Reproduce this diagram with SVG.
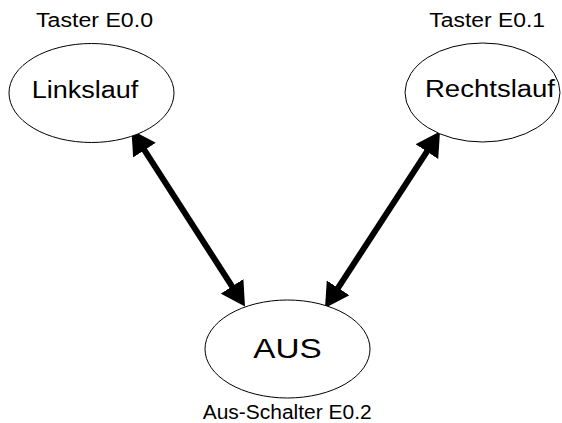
<svg xmlns="http://www.w3.org/2000/svg" width="562" height="423" viewBox="0 0 562 423">
  <style>
    .state { fill: #ffffff; stroke: #000000; stroke-width: 1; }
    .label { font-family: "Liberation Sans", Arial, sans-serif; fill: #000000; }
    .caption { font-size: 20px; }
    .name { font-size: 23px; }
    .big { font-size: 28px; }
    .link { stroke: #000000; stroke-width: 6; fill: none; marker-start: url(#head); marker-end: url(#head); }
  </style>
  <defs>
    <marker id="head" markerUnits="userSpaceOnUse" viewBox="0 0 24 27" markerWidth="24" markerHeight="27" refX="9" refY="13.5" orient="auto-start-reverse">
      <path d="M0,0 L24,13.5 L0,27 Z" fill="#000000"/>
    </marker>
  </defs>

  <rect width="562" height="423" fill="#ffffff"/>

  <!-- transitions between the states -->
  <g id="connectors">
    <line class="link" x1="139.6" y1="142.6" x2="236.9" y2="293.9"/>
    <line class="link" x1="431.8" y1="144.1" x2="333.2" y2="295.4"/>
  </g>

  <g id="linkslauf">
    <ellipse class="state" cx="91.5" cy="93" rx="82.5" ry="49.5"/>
    <text class="label name" x="31.7" y="98.3" textLength="106.6" lengthAdjust="spacingAndGlyphs">Linkslauf</text>
    <text class="label caption" x="36" y="27.3" textLength="117" lengthAdjust="spacingAndGlyphs">Taster E0.0</text>
  </g>

  <g id="rechtslauf">
    <ellipse class="state" cx="482.5" cy="92.5" rx="77.5" ry="49.5"/>
    <text class="label name" x="425" y="97.3" textLength="130" lengthAdjust="spacingAndGlyphs">Rechtslauf</text>
    <text class="label caption" x="429.3" y="27.3" textLength="115.7" lengthAdjust="spacingAndGlyphs">Taster E0.1</text>
  </g>

  <g id="aus">
    <ellipse class="state" cx="287.5" cy="349" rx="82.5" ry="49"/>
    <text class="label big" x="253.3" y="358.3" textLength="68.4" lengthAdjust="spacingAndGlyphs">AUS</text>
    <text class="label caption" x="202.7" y="419" textLength="169" lengthAdjust="spacingAndGlyphs">Aus-Schalter E0.2</text>
  </g>
</svg>
